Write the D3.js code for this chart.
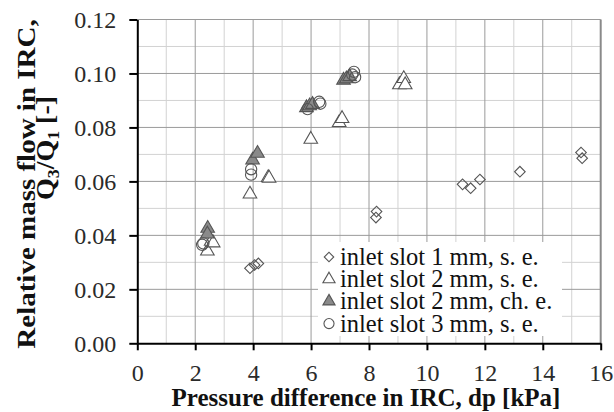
<!DOCTYPE html>
<html>
<head>
<meta charset="utf-8">
<script src="https://cdn.jsdelivr.net/npm/d3@7"></script>
<style>
  body { margin: 0; background: #fff; }
</style>
</head>
<body>
<div id="chart"></div>
<script>
const xTicks = [0, 2, 4, 6, 8, 10, 12, 14, 16];
const yTicks = [0, 0.02, 0.04, 0.06, 0.08, 0.10, 0.12];

// dp [kPa], Q3/Q1 [-]
const slot1se = [
	[3.89, 0.0278], [4.05, 0.0290], [4.18, 0.0296], [8.26, 0.0488], [8.24, 0.0466],
	[11.23, 0.0589], [11.51, 0.0575], [11.83, 0.0607], [13.21, 0.0636],
	[15.32, 0.0707], [15.36, 0.0686]
];
const slot2se = [
	[2.42, 0.0342], [2.55, 0.0378], [2.62, 0.0372], [3.89, 0.0553], [4.52, 0.0614],
	[4.55, 0.0612], [5.99, 0.0756], [6.97, 0.0818], [7.07, 0.0833], [9.05, 0.0958],
	[9.2, 0.0981], [9.25, 0.0958]
];
const slot2che = [
	[2.43, 0.0426], [2.42, 0.0405], [3.98, 0.0679], [4.15, 0.0704], [5.84, 0.0873],
	[5.95, 0.0880], [6.05, 0.0885], [7.12, 0.0975], [7.22, 0.0980], [7.33, 0.0988]
];
const slot3se = [
	[2.24, 0.0365], [2.28, 0.0370], [3.93, 0.0645], [3.93, 0.0625], [5.88, 0.0868],
	[6.28, 0.0895], [6.32, 0.0888], [7.42, 0.0996], [7.48, 0.1006], [7.52, 0.0986]
];
const legendLabels = [
	"inlet slot 1 mm, s. e.",
	"inlet slot 2 mm, s. e.",
	"inlet slot 2 mm, ch. e.",
	"inlet slot 3 mm, s. e."
];

const FONT = '"Liberation Serif", "Times New Roman", serif';
const width = 614, height = 412;
const margin = { top: 19.5, right: 13.3, bottom: 68.7, left: 137.3 };

const svg = d3.select("#chart").append("svg")
	.attr("width", width)
	.attr("height", height);

const xScale = d3.scaleLinear().domain([0, 16]).range([margin.left, width - margin.right]);
const yScale = d3.scaleLinear().domain([0, 0.12]).range([height - margin.bottom, margin.top]);

// grid: minor first, then major
const grid = svg.append("g").attr("class", "grid");
const minorX = d3.range(1, 16, 2);
const minorY = d3.range(0.01, 0.12, 0.02);
grid.selectAll(".gx-minor").data(minorX).join("line")
	.attr("stroke", "#d2d2d2").attr("stroke-width", 1)
	.attr("x1", d => xScale(d)).attr("x2", d => xScale(d))
	.attr("y1", yScale(0)).attr("y2", yScale(0.12));
grid.selectAll(".gy-minor").data(minorY).join("line")
	.attr("stroke", "#d2d2d2").attr("stroke-width", 1)
	.attr("x1", xScale(0)).attr("x2", xScale(16))
	.attr("y1", d => yScale(d)).attr("y2", d => yScale(d));
grid.selectAll(".gx-major").data(xTicks.slice(1, -1)).join("line")
	.attr("stroke", "#9a9a9a").attr("stroke-width", 1)
	.attr("x1", d => xScale(d)).attr("x2", d => xScale(d))
	.attr("y1", yScale(0)).attr("y2", yScale(0.12));
grid.selectAll(".gy-major").data(yTicks.slice(1)).join("line")
	.attr("stroke", "#9a9a9a").attr("stroke-width", 1)
	.attr("x1", xScale(0)).attr("x2", xScale(16))
	.attr("y1", d => yScale(d)).attr("y2", d => yScale(d));
// right frame
grid.append("line")
	.attr("stroke", "#8a8a8a").attr("stroke-width", 2)
	.attr("x1", xScale(16)).attr("x2", xScale(16))
	.attr("y1", yScale(0)).attr("y2", yScale(0.12));

// axes
const xAxis = d3.axisBottom(xScale).tickValues(xTicks).tickSize(7).tickSizeOuter(0).tickFormat(d3.format("d"));
const yAxis = d3.axisLeft(yScale).tickValues(yTicks).tickSize(8).tickSizeOuter(0).tickFormat(d3.format(".2f"));

const gx = svg.append("g")
	.attr("transform", `translate(0,${yScale(0)})`)
	.call(xAxis);
const gy = svg.append("g")
	.attr("transform", `translate(${xScale(0)},0)`)
	.call(yAxis);

[gx, gy].forEach(g => {
	g.select(".domain").attr("stroke", "#000").attr("stroke-width", 2);
	g.selectAll(".tick line").attr("stroke", "#000").attr("stroke-width", 2);
	g.selectAll(".tick text")
		.style("font-family", FONT)
		.style("font-size", "24px")
		.attr("fill", "#2a2a2a");
});
gx.selectAll(".tick text").attr("y", 38).attr("dy", 0);
gy.selectAll(".tick text").attr("x", -21).attr("dy", "0.34em");

// axis titles
svg.append("text")
	.attr("x", 366).attr("y", 406)
	.attr("text-anchor", "middle")
	.style("font-family", FONT)
	.style("font-weight", "bold")
	.style("font-size", "25px")
	.attr("fill", "#111")
	.text("Pressure difference in IRC, dp [kPa]");

const yTitle = svg.append("g")
	.style("font-family", FONT)
	.style("font-weight", "bold")
	.style("font-size", "25px")
	.attr("fill", "#111");
yTitle.append("text")
	.attr("transform", "translate(35,184) rotate(-90) scale(1.16,1)")
	.attr("text-anchor", "middle")
	.text("Relative mass flow in IRC,");
const q = yTitle.append("text")
	.attr("transform", "translate(54,148) rotate(-90) scale(1.12,1)")
	.attr("text-anchor", "middle");
q.append("tspan").text("Q");
q.append("tspan").style("font-size", "16px").attr("dy", 5).text("3");
q.append("tspan").attr("dy", -5).text("/Q");
q.append("tspan").style("font-size", "16px").attr("dy", 5).text("1");
q.append("tspan").attr("dy", -5).text(" [-]");

// markers (diamond = square turned 45 degrees)
const series = [
	{ data: slot1se, type: d3.symbolSquare, size: 56, fill: "none", rot: 45 },
	{ data: slot2se, type: d3.symbolTriangle, size: 80, fill: "#fff", rot: 0 },
	{ data: slot2che, type: d3.symbolTriangle, size: 80, fill: "#8a8a8a", rot: 0 },
	{ data: slot3se, type: d3.symbolCircle, size: 100, fill: "none", rot: 0 }
];

const marks = svg.append("g").attr("class", "marks");
series.forEach(s => {
	const sym = d3.symbol().type(s.type).size(s.size);
	marks.append("g").selectAll("path").data(s.data).join("path")
		.attr("d", sym)
		.attr("transform", d => `translate(${xScale(d[0])},${yScale(d[1])}) rotate(${s.rot})`)
		.attr("fill", s.fill)
		.attr("stroke", "#555")
		.attr("stroke-width", 1.1);
});

// legend
const legend = svg.append("g").attr("transform", "translate(318,242)");
legend.append("rect")
	.attr("width", 244).attr("height", 94)
	.attr("fill", "#fff");
legendLabels.forEach((label, i) => {
	const s = series[i];
	const cy = 15 + i * 22.2;
	legend.append("path")
		.attr("d", d3.symbol().type(s.type).size(s.size * 0.8))
		.attr("transform", `translate(11,${cy}) rotate(${s.rot})`)
		.attr("fill", s.fill)
		.attr("stroke", "#555")
		.attr("stroke-width", 1.1);
	legend.append("text")
		.attr("x", 22).attr("y", cy + 8)
		.style("font-family", FONT)
		.style("font-size", "24.5px")
		.attr("fill", "#111")
		.text(label);
});
</script>
</body>
</html>
